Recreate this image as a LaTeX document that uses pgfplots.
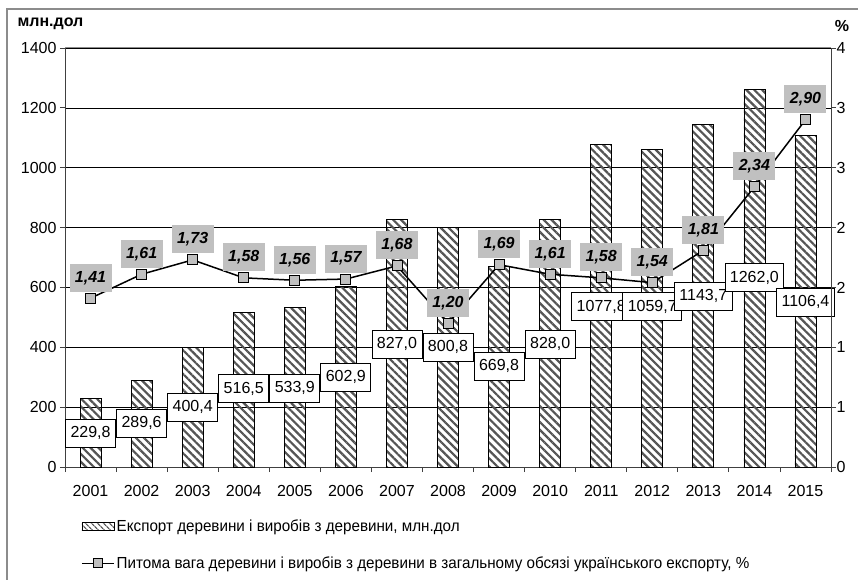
\documentclass[border=0pt]{standalone}
\usepackage{fontspec}
\setmainfont{Liberation Sans}
\newfontfamily\narrowfont{Liberation Sans}[FakeStretch=0.95]
\usepackage{pgfplots}
\pgfplotsset{compat=1.18}
\usepackage{pgfplotstable}
\usetikzlibrary{patterns.meta}
\definecolor{silver}{HTML}{C0C0C0}
\definecolor{stripe}{HTML}{555555}

\pgfplotstableread{
x v
0 229.8
1 289.6
2 400.4
3 516.5
4 533.9
5 602.9
6 827.0
7 800.8
8 669.8
9 828.0
10 1077.8
11 1059.7
12 1143.7
13 1262.0
14 1106.4
}\bars

\pgfplotstableread{
x y l
0 113.6 229,8
1 147 289,6
2 200 400,4
3 261 516,5
4 264 533,9
5 301 602,9
6 411 827,0
7 401 800,8
8 337 669,8
9 411 828,0
10 535 1077,8
11 535 1059,7
12 571 1143,7
13 632 1262,0
14 551 1106,4
}\barlabels

\pgfplotstableread{
x v l
0 1.41 1,41
1 1.61 1,61
2 1.73 1,73
3 1.58 1,58
4 1.56 1,56
5 1.57 1,57
6 1.68 1,68
7 1.20 1,20
8 1.69 1,69
9 1.61 1,61
10 1.58 1,58
11 1.54 1,54
12 1.81 1,81
13 2.34 2,34
14 2.90 2,90
}\share

\begin{document}
\begin{tikzpicture}
\useasboundingbox (-65pt,-112pt) rectangle (793pt,467pt);
\draw[black!45, line width=1.2pt] (800pt,458pt) -- (-58pt,458pt) -- (-58pt,-120pt);

\begin{axis}[
  at={(0pt,0pt)}, anchor=south west,
  scale only axis, width=766pt, height=419pt,
  xmin=-0.5, xmax=14.5, ymin=0, ymax=1400,
  clip=false,
  axis x line*=bottom, axis y line*=left,
  axis line style={line width=1pt, black!75},
  ytick={0,200,400,600,800,1000,1200,1400},
  yticklabels={0,200,400,600,800,1000,1200,1400},
  ymajorgrids, major grid style={black, line width=0.7pt},
  tick align=outside, major tick length=5pt,
  tick style={black!75, line width=0.8pt},
  xtick={-0.5,0.5,1.5,2.5,3.5,4.5,5.5,6.5,7.5,8.5,9.5,10.5,11.5,12.5,13.5,14.5},
  xticklabels={},
  extra x ticks={0,1,2,3,4,5,6,7,8,9,10,11,12,13,14},
  extra x tick labels={2001,2002,2003,2004,2005,2006,2007,2008,2009,2010,2011,2012,2013,2014,2015},
  extra x tick style={major tick length=0pt, grid=none,
    xticklabel style={yshift=-15pt}},
  tick label style={font=\fontsize{16}{19}\selectfont},
]
\addplot[ybar, bar width=21pt, draw=black, line width=0.8pt,
  pattern={Lines[angle=-45, distance=5.6pt, line width=2.2pt]}, pattern color=stripe]
  table[x=x, y=v] {\bars};
\draw[black!45, line width=1pt] (rel axis cs:0,1) -- (rel axis cs:1,1);
\addplot[draw=none, mark=none, nodes near coords, point meta=explicit symbolic,
  nodes near coords style={anchor=center, fill=white, draw=black, line width=0.8pt,
    inner xsep=5pt, inner ysep=0pt, minimum height=28pt,
    font=\fontsize{16}{19}\selectfont}]
  table[x=x, y=y, meta=l] {\barlabels};
\end{axis}

\begin{axis}[
  at={(0pt,0pt)}, anchor=south west,
  scale only axis, width=766pt, height=419pt,
  xmin=-0.5, xmax=14.5, ymin=0, ymax=3.5,
  clip=false,
  axis x line=none, axis y line*=right,
  axis line style={line width=1pt, black!75},
  ytick={0,0.5,1,1.5,2,2.5,3,3.5},
  yticklabels={0,1,1,2,2,3,3,4},
  tick align=outside, major tick length=5pt,
  tick style={black!75, line width=0.8pt},
  tick label style={font=\fontsize{16}{19}\selectfont},
  yticklabel style={xshift=-3pt},
  legend cell align=left,
  legend style={draw=none, fill=none, at={(0.0209,-0.12)}, anchor=north west,
    font=\fontsize{16}{19}\narrowfont, row sep=20pt, inner sep=0pt,
    nodes={inner sep=2pt}},
]
\addlegendimage{legend image code/.code={
    \draw[draw=black, line width=0.8pt, pattern={Lines[angle=-45, distance=4pt, line width=1.4pt]}, pattern color=stripe] (0pt,-4pt) rectangle (32pt,4pt);}}
\addlegendentry{Експорт деревини і виробів з деревини, млн.дол}
\addplot[black, line width=1.5pt, mark=square*, mark size=5pt,
  mark options={fill=silver, draw=black, line width=0.8pt},
  nodes near coords, point meta=explicit symbolic,
  nodes near coords style={anchor=south, yshift=6pt, fill=silver, inner sep=0pt,
    minimum height=28pt, minimum width=42pt,
    font=\fontsize{16}{19}\selectfont\bfseries\itshape},
  legend image code/.code={
    \draw[black, line width=1.5pt] (0pt,0pt) -- (32pt,0pt);
    \draw[fill=silver, draw=black, line width=0.8pt] (11.5pt,-4.5pt) rectangle (20.5pt,4.5pt);}]
  table[x=x, y=v, meta=l] {\share};
\addlegendentry{Питома вага деревини і виробів з деревини в загальному обсязі українського експорту, \%}
\end{axis}

\node[anchor=west, font=\fontsize{16}{19}\selectfont\bfseries] at (-51pt,443pt) {млн.дол};
\node[anchor=center, font=\fontsize{16}{19}\selectfont\bfseries] at (777pt,441pt) {\%};
\end{tikzpicture}
\end{document}
